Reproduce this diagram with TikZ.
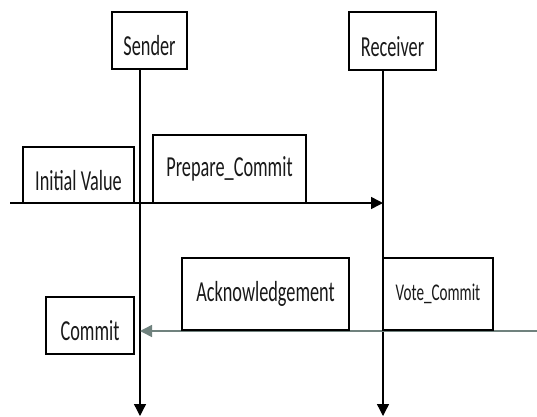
\documentclass[tikz,border=0pt]{standalone}
\usepackage{fontspec}
\newfontfamily\boxfont[FakeStretch=0.63]{Carlito}
\usepackage{tikz}
\usetikzlibrary{arrows.meta}
\definecolor{replygray}{RGB}{112,130,126}

\begin{document}
\begin{tikzpicture}[
        x=1pt, y=-1pt,
        >={Triangle[length=12pt, width=12pt]},
        every node/.style={font=\boxfont\fontsize{29}{31}\selectfont, text=black!90},
        msgbox/.style={draw, line width=1.3pt, inner sep=0pt},
        lowtext/.style={text height=30pt, text depth=0pt},
        lifeline/.style={line width=1.3pt, ->},
        message/.style={line width=1.5pt, ->},
      ]
      \useasboundingbox (0,0) rectangle (537,416);

      % Participants
      \node[msgbox, lowtext, minimum width=75pt, minimum height=57pt] (sender)   at (149.5,40.5) {Sender};
      \node[msgbox, lowtext, minimum width=87pt, minimum height=58pt] (receiver) at (392.5,41)   {Receiver};

      % Lifelines
      \coordinate (sEnd) at (140,416);
      \coordinate (rEnd) at (383,416);
      \draw[lifeline] (sEnd |- sender.south) -- (sEnd);
      \draw[lifeline] (rEnd |- receiver.south) -- (rEnd);

      % Messages
      \coordinate (in)  at (10,203);
      \coordinate (out) at (537,331);
      \draw[message] (in) -- (in -| rEnd);
      \draw[message, draw=replygray] (out) -- (out -| sEnd);

      % Labels
      \node[msgbox, lowtext, minimum width=111pt, minimum height=56pt] (initval) at (78.5,175)  {Initial Value};
      \node[msgbox, minimum width=153pt, minimum height=68pt] (prepare) at (229.5,169) {Prepare\_Commit};
      \node[msgbox, minimum width=167pt, minimum height=72pt] (ack)     at (265.5,294) {Acknowledgement};
      \node[msgbox, minimum width=110pt, minimum height=72pt,
            font=\boxfont\fontsize{24}{26}\selectfont]          (vote)    at (438,294)   {Vote\_Commit};
      \node[msgbox, lowtext, minimum width=88pt, minimum height=57pt] (commit) at (90,325.5) {Commit};

    \end{tikzpicture}
\end{document}
